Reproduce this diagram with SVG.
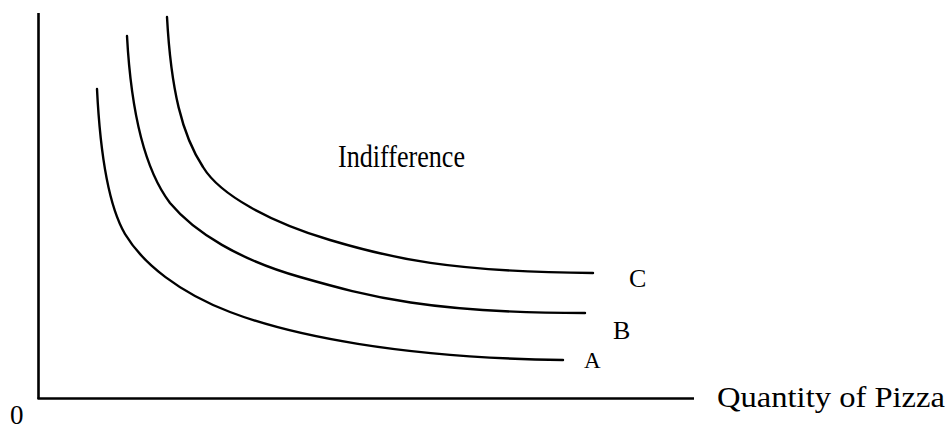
<svg xmlns="http://www.w3.org/2000/svg" width="947" height="430" viewBox="0 0 947 430">
<style>
.ax{stroke:#000;stroke-width:2.6;fill:none}
.cv{stroke:#000;stroke-width:2.4;fill:none;stroke-linecap:round}
.t{font-family:"Liberation Serif","Times New Roman",serif;fill:#000}
</style>
<rect width="947" height="430" fill="#fff"/>
<g id="axes">
<line class="ax" x1="38.5" y1="13" x2="38.5" y2="399"/>
<line class="ax" x1="37.5" y1="398.5" x2="694" y2="398.5"/>
<text class="t" x="10" y="424" font-size="27">0</text>
<text class="t" x="717" y="406.5" font-size="30" textLength="228" lengthAdjust="spacingAndGlyphs">Quantity of Pizza</text>
</g>
<g id="connectors">
<path id="curveA" class="cv" d="M97,89 C100,150 107,203 125,234 C143,264 180,293 230,312 C290,335 400,358 563,360"/>
<path id="curveB" class="cv" d="M127,36 C131,110 145,170 170,203 C195,233 240,260 300,277 C370,297 430,313 585,313"/>
<path id="curveC" class="cv" d="M167,17 C171,90 182,135 203,167 C220,195 270,222 330,240 C390,258 450,272 593,273"/>
</g>
<g id="title"><text class="t" transform="translate(338,167) scale(1,1.25)" x="0" y="0" font-size="26" textLength="127" lengthAdjust="spacingAndGlyphs">Indifference</text></g>
<g id="labelA"><text class="t" x="584" y="368" font-size="23">A</text></g>
<g id="labelB"><text class="t" x="613" y="339" font-size="26">B</text></g>
<g id="labelC"><text class="t" x="629" y="287" font-size="26">C</text></g>
</svg>
